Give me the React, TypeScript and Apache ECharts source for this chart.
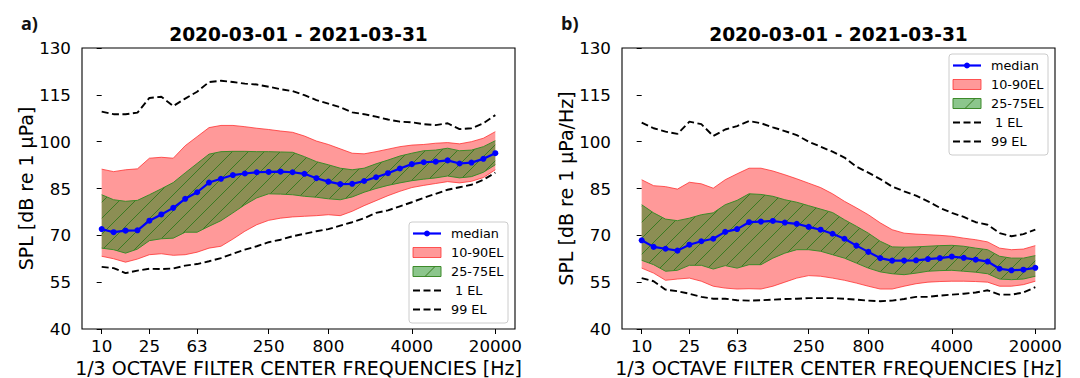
import React, { useEffect, useRef } from 'react';
import * as echarts from 'echarts';

const FREQS = ['10', '12.5', '16', '20', '25', '31.5', '40', '50', '63', '80', '100', '125', '160', '200', '250', '315', '400', '500', '630', '800', '1000', '1250', '1600', '2000', '2500', '3150', '4000', '5000', '6300', '8000', '10000', '12500', '16000', '20000'];
const X_TICKS = [0, 4, 8, 14, 19, 26, 33];
const Y_TICKS = [40, 55, 70, 85, 100, 115, 130];
const TITLE = '2020-03-01 - 2021-03-31';
const LEGEND_NAMES = ['median', '10-90EL', '25-75EL', ' 1 EL', '99 EL'];

// Panel a)
const A_MEDIAN = [72.0, 71.0, 71.5, 71.6, 74.7, 76.7, 78.8, 81.7, 83.8, 86.9, 88.1, 89.3, 89.8, 90.2, 90.3, 90.4, 90.2, 89.7, 88.3, 87.2, 86.4, 86.5, 87.4, 88.6, 89.9, 91.4, 92.8, 93.4, 93.6, 94.0, 93.0, 93.3, 94.5, 96.3];
const A_P99 = [109.6, 108.8, 108.8, 109.3, 114.0, 114.4, 111.4, 113.8, 116.0, 119.1, 119.5, 119.1, 118.6, 118.3, 117.6, 116.8, 116.2, 114.9, 113.3, 112.2, 111.0, 109.4, 108.8, 108.0, 107.1, 106.4, 106.2, 105.6, 105.3, 105.9, 104.0, 104.3, 105.9, 108.5];
const A_P90 = [91.2, 90.4, 91.0, 91.3, 94.7, 95.0, 94.7, 98.7, 101.6, 104.5, 105.2, 105.2, 104.8, 104.3, 103.9, 103.4, 103.0, 101.8, 100.2, 99.1, 97.7, 96.3, 96.1, 96.8, 97.6, 98.4, 98.9, 99.1, 99.5, 99.7, 99.3, 100.0, 101.1, 103.2];
const A_P75 = [83.0, 81.4, 80.9, 81.2, 83.0, 84.9, 86.9, 90.0, 93.0, 96.0, 96.8, 96.9, 96.9, 96.8, 96.8, 96.7, 96.6, 95.2, 93.6, 92.6, 91.5, 91.0, 91.5, 92.9, 94.1, 95.4, 96.3, 97.1, 97.3, 97.9, 97.1, 97.3, 98.4, 100.3];
const A_P25 = [65.9, 65.4, 64.3, 65.6, 68.3, 68.9, 69.1, 71.0, 71.0, 72.9, 74.7, 77.2, 79.8, 82.0, 83.3, 83.2, 83.0, 82.5, 82.2, 81.7, 81.4, 82.3, 83.8, 85.0, 86.0, 86.8, 87.5, 88.0, 88.4, 89.0, 88.4, 88.8, 90.2, 92.6];
const A_P10 = [63.3, 62.5, 61.4, 62.4, 63.8, 64.1, 63.6, 63.8, 64.6, 65.9, 66.5, 68.8, 71.3, 73.4, 74.8, 75.5, 75.9, 76.1, 76.3, 76.6, 76.3, 77.7, 79.5, 81.1, 82.7, 84.1, 85.3, 86.0, 86.6, 87.2, 86.8, 87.3, 88.5, 91.0];
const A_P1 = [59.9, 59.5, 57.9, 58.7, 59.3, 59.2, 59.4, 60.3, 60.8, 61.7, 62.7, 64.1, 65.4, 66.5, 67.8, 68.6, 69.7, 70.5, 71.3, 72.0, 73.1, 74.2, 75.5, 77.2, 78.0, 79.3, 80.6, 82.0, 83.3, 84.6, 85.4, 86.2, 87.8, 90.1];

// Panel b)
const B_MEDIAN = [68.4, 66.3, 65.7, 65.1, 67.0, 68.1, 68.9, 71.1, 72.0, 74.2, 74.4, 74.6, 74.1, 73.7, 72.7, 71.8, 70.5, 68.9, 66.7, 64.7, 62.7, 61.9, 61.9, 62.0, 62.4, 62.7, 63.2, 62.8, 62.2, 61.6, 59.3, 58.8, 59.0, 59.6];
const B_P99 = [106.1, 104.3, 103.2, 102.5, 106.4, 105.6, 101.8, 103.9, 105.0, 106.6, 105.9, 104.6, 103.4, 102.1, 100.0, 98.4, 96.8, 94.9, 92.0, 90.1, 88.0, 85.6, 84.1, 82.7, 80.9, 78.8, 77.2, 75.9, 74.2, 73.4, 70.7, 69.7, 70.4, 71.8];
const B_P90 = [87.8, 85.9, 85.6, 84.8, 87.0, 86.5, 85.1, 87.8, 89.7, 91.5, 91.5, 90.6, 89.4, 88.1, 86.7, 85.3, 83.3, 80.9, 78.8, 76.6, 74.0, 71.8, 70.7, 70.4, 70.2, 70.0, 69.7, 69.1, 68.6, 67.9, 65.9, 65.4, 65.6, 66.7];
const B_P75 = [79.8, 77.2, 75.2, 74.7, 75.5, 76.6, 77.2, 79.8, 81.2, 83.3, 83.1, 82.5, 81.4, 80.6, 79.5, 78.4, 77.3, 75.0, 72.9, 70.7, 68.1, 66.3, 66.2, 66.3, 66.5, 66.7, 66.8, 66.5, 65.9, 65.4, 63.3, 62.7, 62.7, 63.5];
const B_P25 = [62.0, 60.6, 58.5, 58.8, 60.4, 60.4, 59.2, 60.3, 59.5, 60.6, 60.6, 62.7, 64.3, 65.4, 65.4, 64.9, 63.8, 62.7, 61.1, 59.5, 58.3, 57.7, 57.4, 57.9, 58.5, 58.7, 58.8, 58.5, 58.2, 57.7, 56.0, 55.8, 56.0, 56.9];
const B_P10 = [59.5, 57.9, 55.6, 56.0, 56.3, 55.3, 53.7, 53.1, 52.8, 52.9, 52.8, 53.7, 55.0, 56.3, 57.1, 56.9, 56.3, 55.6, 54.7, 53.7, 52.8, 52.8, 53.7, 54.5, 55.0, 55.2, 55.3, 55.3, 55.2, 55.0, 53.7, 53.7, 54.2, 55.3];
const B_P1 = [56.3, 55.3, 52.6, 52.1, 51.3, 50.3, 49.7, 49.7, 49.2, 49.1, 49.2, 49.4, 49.6, 49.7, 49.9, 49.9, 49.9, 49.7, 49.4, 49.1, 48.9, 49.1, 49.6, 50.3, 50.3, 50.7, 51.0, 51.3, 51.7, 52.4, 51.0, 51.0, 51.7, 53.4];

const FONT = '"DejaVu Sans", sans-serif';
const RED_FILL = 'rgba(255,0,0,0.4)';
const RED_EDGE = 'rgba(255,40,40,0.75)';
const GREEN_FILL = 'rgba(0,128,0,0.45)';
const GREEN_EDGE = '#3d8a2a';
const HATCH = '#3a7a22';
const TILE = 16;

function makeHatch(): HTMLCanvasElement {
  const c = document.createElement('canvas');
  c.width = TILE;
  c.height = TILE;
  const ctx = c.getContext('2d')!;
  ctx.fillStyle = GREEN_FILL;
  ctx.fillRect(0, 0, TILE, TILE);
  ctx.strokeStyle = HATCH;
  ctx.lineWidth = 1;
  ctx.beginPath();
  ctx.moveTo(-1, TILE + 1);
  ctx.lineTo(TILE + 1, -1);
  ctx.moveTo(-1, 1);
  ctx.lineTo(1, -1);
  ctx.moveTo(TILE - 1, TILE + 1);
  ctx.lineTo(TILE + 1, TILE - 1);
  ctx.stroke();
  return c;
}

const pts = (arr: number[]) => arr.map((v, i) => [i, v]);

function bandSeries(idx: number, lo: number[], hi: number[], fill: any) {
  return {
    type: 'custom', xAxisIndex: idx, yAxisIndex: idx, silent: true, animation: false,
    data: lo.map((v, i) => [i, v, hi[i]]),
    encode: { x: 0, y: [1, 2] },
    renderItem: (params: any, api: any) => {
      if (params.dataIndex !== 0) return null;
      const upper = hi.map((v, i) => api.coord([i, v]));
      const lower = lo.map((v, i) => api.coord([i, v])).reverse();
      return { type: 'polygon', shape: { points: upper.concat(lower) }, style: { fill, stroke: 'none' } };
    },
  };
}

function panelSeries(idx: number, med: number[], p1: number[], p10: number[], p25: number[], p75: number[], p90: number[], p99: number[], hatch: any) {
  const common = { xAxisIndex: idx, yAxisIndex: idx, symbol: 'none', silent: true, animation: false };
  const pattern = { image: hatch, repeat: 'repeat', imageWidth: TILE, imageHeight: TILE };
  return [
    bandSeries(idx, p10, p90, RED_FILL),
    { ...common, type: 'line', data: pts(p10), lineStyle: { color: RED_EDGE, width: 1 } },
    { ...common, type: 'line', data: pts(p90), lineStyle: { color: RED_EDGE, width: 1 } },
    bandSeries(idx, p25, p75, pattern),
    { ...common, type: 'line', data: pts(p25), lineStyle: { color: GREEN_EDGE, width: 1 } },
    { ...common, type: 'line', data: pts(p75), lineStyle: { color: GREEN_EDGE, width: 1 } },
    { ...common, type: 'line', data: pts(p1), lineStyle: { color: '#000', width: 1.9, type: [7, 3.5] } },
    { ...common, type: 'line', data: pts(p99), lineStyle: { color: '#000', width: 1.9, type: [7, 3.5] } },
    { ...common, type: 'line', data: pts(med), symbol: 'circle', symbolSize: 6, lineStyle: { color: '#0000ff', width: 2.2 }, itemStyle: { color: '#0000ff' } },
  ];
}

function legend(x: number, y: number): any {
  const rowY = (k: number) => 11.5 + k * 19;
  const hx0 = 4, hx1 = 32, tx = 42;
  const children: any[] = [
    { type: 'rect', shape: { x: 0, y: 0, width: 99, height: 101, r: 3 }, style: { fill: 'rgba(255,255,255,0.85)', stroke: '#cccccc', lineWidth: 1 } },
    { type: 'line', shape: { x1: hx0, y1: rowY(0), x2: hx1, y2: rowY(0) }, style: { stroke: '#0000ff', lineWidth: 2.2 } },
    { type: 'circle', shape: { cx: (hx0 + hx1) / 2, cy: rowY(0), r: 3 }, style: { fill: '#0000ff' } },
    { type: 'rect', shape: { x: hx0, y: rowY(1) - 5, width: hx1 - hx0, height: 10 }, style: { fill: RED_FILL, stroke: RED_EDGE, lineWidth: 1 } },
    { type: 'rect', shape: { x: hx0, y: rowY(2) - 5, width: hx1 - hx0, height: 10 }, style: { fill: GREEN_FILL, stroke: GREEN_EDGE, lineWidth: 1 } },
    { type: 'line', shape: { x1: hx0 + 12, y1: rowY(2) + 5, x2: hx0 + 22, y2: rowY(2) - 5 }, style: { stroke: HATCH, lineWidth: 1 } },
    { type: 'line', shape: { x1: hx0, y1: rowY(3), x2: hx1, y2: rowY(3) }, style: { stroke: '#000', lineWidth: 1.9, lineDash: [7, 3.5] } },
    { type: 'line', shape: { x1: hx0, y1: rowY(4), x2: hx1, y2: rowY(4) }, style: { stroke: '#000', lineWidth: 1.9, lineDash: [7, 3.5] } },
  ];
  LEGEND_NAMES.forEach((n, k) => {
    children.push({ type: 'text', x: tx, y: rowY(k), style: { text: n, font: '12.8px ' + FONT, fill: '#000', textVerticalAlign: 'middle', textAlign: 'left' } });
  });
  return { type: 'group', x, y, children, z: 100 };
}

function axes(idx: number, yName: string) {
  const xAxis = {
    gridIndex: idx, type: 'value', min: -1.65, max: 34.65,
    name: '1/3 OCTAVE FILTER CENTER FREQUENCIES [Hz]', nameLocation: 'middle', nameGap: 28,
    nameTextStyle: { fontFamily: FONT, fontSize: 19, color: '#000' },
    axisLine: { show: false }, splitLine: { show: false },
    axisTick: { show: true, inside: false, length: 5, customValues: X_TICKS, lineStyle: { color: '#000', width: 1 } },
    axisLabel: { show: true, customValues: X_TICKS, margin: 8, fontFamily: FONT, fontSize: 16.7, color: '#000', formatter: (v: number) => FREQS[Math.round(v)] ?? '' },
  };
  const yAxis = {
    gridIndex: idx, type: 'value', min: 40, max: 130,
    name: yName, nameLocation: 'middle', nameGap: 46, nameRotate: 90,
    nameTextStyle: { fontFamily: FONT, fontSize: 19, color: '#000' },
    axisLine: { show: false }, splitLine: { show: false },
    axisTick: { show: true, inside: false, length: 5, customValues: Y_TICKS, lineStyle: { color: '#000', width: 1 } },
    axisLabel: { show: true, customValues: Y_TICKS, margin: 11, fontFamily: FONT, fontSize: 16.7, color: '#000' },
  };
  return { xAxis, yAxis };
}

export default function App() {
  const ref = useRef<HTMLDivElement>(null);
  useEffect(() => {
    if (!ref.current) return;
    const chart = echarts.init(ref.current, undefined, { renderer: 'svg' });
    const hatch = makeHatch();
    const a = axes(0, 'SPL [dB re 1 µPa]');
    const b = axes(1, 'SPL [dB re 1 µPa/Hz]');
    const gridCommon = { top: 48, width: 433, height: 281, show: true, borderColor: '#000', borderWidth: 1.1, backgroundColor: 'transparent', containLabel: false, outerBoundsMode: 'none' };
    chart.setOption({
      animation: false,
      backgroundColor: '#ffffff',
      grid: [{ ...gridCommon, left: 82 }, { ...gridCommon, left: 622 }],
      xAxis: [a.xAxis, b.xAxis],
      yAxis: [a.yAxis, b.yAxis],
      series: [
        ...panelSeries(0, A_MEDIAN, A_P1, A_P10, A_P25, A_P75, A_P90, A_P99, hatch),
        ...panelSeries(1, B_MEDIAN, B_P1, B_P10, B_P25, B_P75, B_P90, B_P99, hatch),
      ],
      graphic: [
        { type: 'text', x: 298.5, y: 34, style: { text: TITLE, font: 'bold 18.6px ' + FONT, fill: '#000', textAlign: 'center', textVerticalAlign: 'middle' } },
        { type: 'text', x: 838.5, y: 34, style: { text: TITLE, font: 'bold 18.6px ' + FONT, fill: '#000', textAlign: 'center', textVerticalAlign: 'middle' } },
        { type: 'text', x: 21, y: 23, style: { text: 'a)', font: 'bold 18px "Open Sans", sans-serif', fill: '#111', textAlign: 'left', textVerticalAlign: 'middle' } },
        { type: 'text', x: 561, y: 23, style: { text: 'b)', font: 'bold 18px "Open Sans", sans-serif', fill: '#111', textAlign: 'left', textVerticalAlign: 'middle' } },
        legend(409, 222),
        legend(949, 54),
      ],
    });
    return () => chart.dispose();
  }, []);
  return <div ref={ref} style={{ position: 'fixed', left: 0, top: 0, width: 1080, height: 378 }} />;
}
